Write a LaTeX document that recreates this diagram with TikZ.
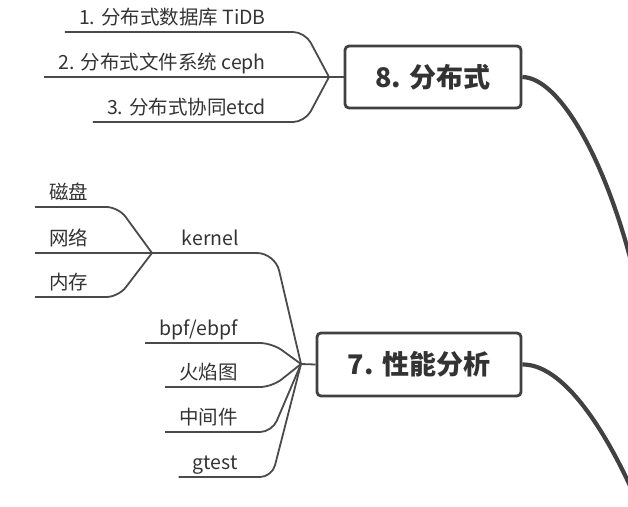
\documentclass[tikz,border=0pt]{standalone}
\usepackage{fontspec}
\setmainfont{Noto Sans CJK SC}
\definecolor{txt}{HTML}{333333}
\definecolor{lnk}{HTML}{4a4a4a}
\definecolor{edge}{HTML}{414141}

\begin{document}
\begin{tikzpicture}[x=1pt,y=-1pt,
	topic/.style={draw=edge,line width=2.8pt,rounded corners=4pt,fill=white,text=txt,
		font=\fontsize{27pt}{30pt}\selectfont\bfseries},
	leaf/.style={text=txt,font=\fontsize{19.5pt}{22pt}\selectfont,inner xsep=14pt,
		inner ysep=3.5pt,text height=15pt,text depth=4pt},
	branch/.style={draw=lnk,line width=1.8pt,rounded corners=12pt},
	trunk/.style={draw=edge,line width=4.2pt}]
	\useasboundingbox (0,0) rectangle (628,506);
	% topics
	\node[topic,minimum width=176pt,minimum height=62pt] (dist) at (433,77) {8. 分布式};
	\node[topic,minimum width=204pt,minimum height=63pt] (perf) at (419,364.5) {7. 性能分析};
	\coordinate (fd) at (329,77);
	\coordinate (fp) at (301,364);
	\coordinate (fk) at (152,253);
	\draw[branch] (fd) -- (dist.west);
	\draw[branch] (fp) -- (perf.west);
	% 8
	\node[leaf,anchor=south east] (d1) at (280,32) {1. 分布式数据库 TiDB};
	\node[leaf,anchor=south east] (d2) at (280,77) {2. 分布式文件系统 ceph};
	\node[leaf,anchor=south east] (d3) at (280,122) {3. 分布式协同etcd};
	\draw[branch] (fd) -- ([xshift=25pt]d1.south east) -- (d1.south west);
	\draw[branch] (fd) -- (d2.south west);
	\draw[branch] (fd) -- ([xshift=25pt]d3.south east) -- (d3.south west);
	% 7
	\node[leaf,anchor=south east] (kern) at (253,253) {kernel};
	\draw[branch,rounded corners=18pt] (fp) -- ([xshift=22pt]kern.south east) -- (fk);
	\node[leaf,anchor=south west] (k1) at (35,207) {磁盘};
	\node[leaf,anchor=south west] (k2) at (35,253) {网络};
	\node[leaf,anchor=south west] (k3) at (35,297) {内存};
	\draw[branch] (fk) -- ([xshift=16pt]k1.south east) -- (k1.south west);
	\draw[branch] (fk) -- (k2.south west);
	\draw[branch] (fk) -- ([xshift=16pt]k3.south east) -- (k3.south west);
	\node[leaf,anchor=south east] (p1) at (252,343) {bpf/ebpf};
	\node[leaf,anchor=south east] (p2) at (252,387) {火焰图};
	\node[leaf,anchor=south east] (p3) at (252,432) {中间件};
	\node[leaf,anchor=south east] (p4) at (252,477) {gtest};
	\foreach \p in {p1,p2,p3,p4}
		\draw[branch] (fp) -- ([xshift=20pt]\p.south east) -- (\p.south west);
	% to the root
	\draw[trunk] (dist.east) .. controls (560,78) and (605,160) .. (632,265);
	\draw[trunk] (perf.east) .. controls (560,364) and (600,420) .. (632,490);
\end{tikzpicture}
\end{document}
